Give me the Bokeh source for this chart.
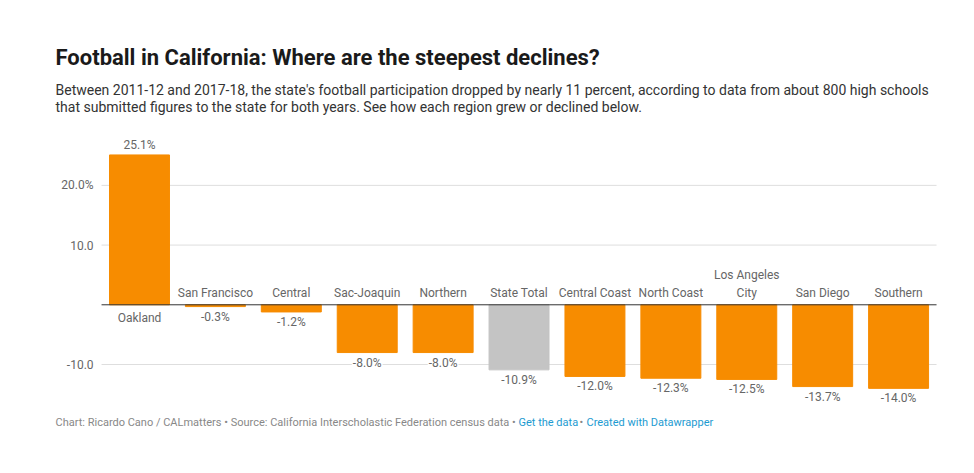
from bokeh.plotting import figure
from bokeh.models import ColumnDataSource, Range1d
from bokeh.core.properties import value
from bokeh.embed import file_html
from bokeh.resources import INLINE

regions = ["Oakland", "San Francisco", "Central", "Sac-Joaquin", "Northern", "State Total",
           "Central Coast", "North Coast", "Los Angeles\nCity", "San Diego", "Southern"]
changes = [25.1, -0.3, -1.2, -8.0, -8.0, -10.9, -12.0, -12.3, -12.5, -13.7, -14.0]
highlight = ["State Total"]
y_ticks = [20, 10, -10]
y_tick_labels = ["20.0%", "10.0", "-10.0"]

TITLE = "Football in California: Where are the steepest declines?"
SUB1 = ("Between 2011-12 and 2017-18, the state's football participation dropped by nearly 11 percent, "
        "according to data from about 800 high schools")
SUB2 = "that submitted figures to the state for both years. See how each region grew or declined below."
FOOT = "Chart: Ricardo Cano / CALmatters \u2022 Source: California Interscholastic Federation census data \u2022"
LINK1 = "Get the data"
LINK2 = "Created with Datawrapper"

ORANGE = "#f78c00"
GREY_BAR = "#c4c4c4"
TXT = "#666666"
FONT = value("Roboto")
W, H = 974, 473

n = len(regions)
idx = list(range(n))

# whole canvas is the plot frame; chart area spans slots -0.5 .. n-0.5
p = figure(width=W, height=H, output_backend="svg", toolbar_location=None,
           x_range=Range1d(-1.831, n - 0.5 + 0.5), y_range=Range1d(-28.26, 50.97),
           min_border=0, min_border_left=0, min_border_right=0,
           min_border_top=0, min_border_bottom=0)
p.axis.visible = False
p.grid.visible = False
p.outline_line_color = None
p.border_fill_color = "white"
p.background_fill_color = "white"
# pixel-space ranges for header / footer text
p.extra_x_ranges = {"px": Range1d(0, W)}
p.extra_y_ranges = {"py": Range1d(H, 0)}

# gridlines and tick labels from the y scale
p.segment(x0=[-0.5] * len(y_ticks), x1=[n - 0.5] * len(y_ticks), y0=y_ticks, y1=y_ticks,
          line_color="#dedede", line_width=1)
p.text(x=[-0.5] * len(y_ticks), y=y_ticks, text=y_tick_labels, x_offset=-8,
       text_align="right", text_baseline="middle", text_font=FONT,
       text_font_size="12px", text_color=TXT)

src = ColumnDataSource(dict(
    x=idx,
    region=regions,
    change=changes,
    color=[GREY_BAR if r in highlight else ORANGE for r in regions],
    vlabel=["%.1f%%" % v for v in changes],
    voff=[-10 if v > 0 else 10 for v in changes],
    cy=[0] * n,
    coff=[6 if v > 0 else -5 for v in changes],
    cbase=["top" if v > 0 else "bottom" for v in changes],
))

p.vbar(x="x", top="change", bottom=0, width=0.79, color="color", source=src)
p.segment(x0=[-0.5], x1=[n - 0.5], y0=[0], y1=[0], line_color="#333333", line_width=1)

p.text(x="x", y="change", text="vlabel", y_offset="voff", source=src,
       text_align="center", text_baseline="middle", text_font=FONT,
       text_font_size="12px", text_color=TXT,
       background_fill_color="white", padding=1)
p.text(x="x", y="cy", text="region", y_offset="coff", source=src,
       text_align="center", text_baseline="cbase", text_font=FONT,
       text_font_size="12px", text_color=TXT, text_line_height=1.25)


def put(txt, x, y, size, color, style="normal"):
    p.text(x=[x], y=[y], text=[txt], text_font=FONT, text_font_size=size,
           text_color=color, text_font_style=style, text_baseline="middle",
           text_align="left", x_range_name="px", y_range_name="py")


put(TITLE, 55, 57, "22px", "#1a1a1a", "bold")
put(SUB1, 55, 89, "14px", "#333333")
put(SUB2, 55, 106, "14px", "#333333")
put(FOOT, 55, 422, "11px", "#888888")
put(LINK1, 518, 422, "11px", "#1d9bd1")
put("\u2022", 579, 422, "11px", "#888888")
put(LINK2, 586, 422, "11px", "#1d9bd1")

open("out.html", "w").write(file_html(p, INLINE))
